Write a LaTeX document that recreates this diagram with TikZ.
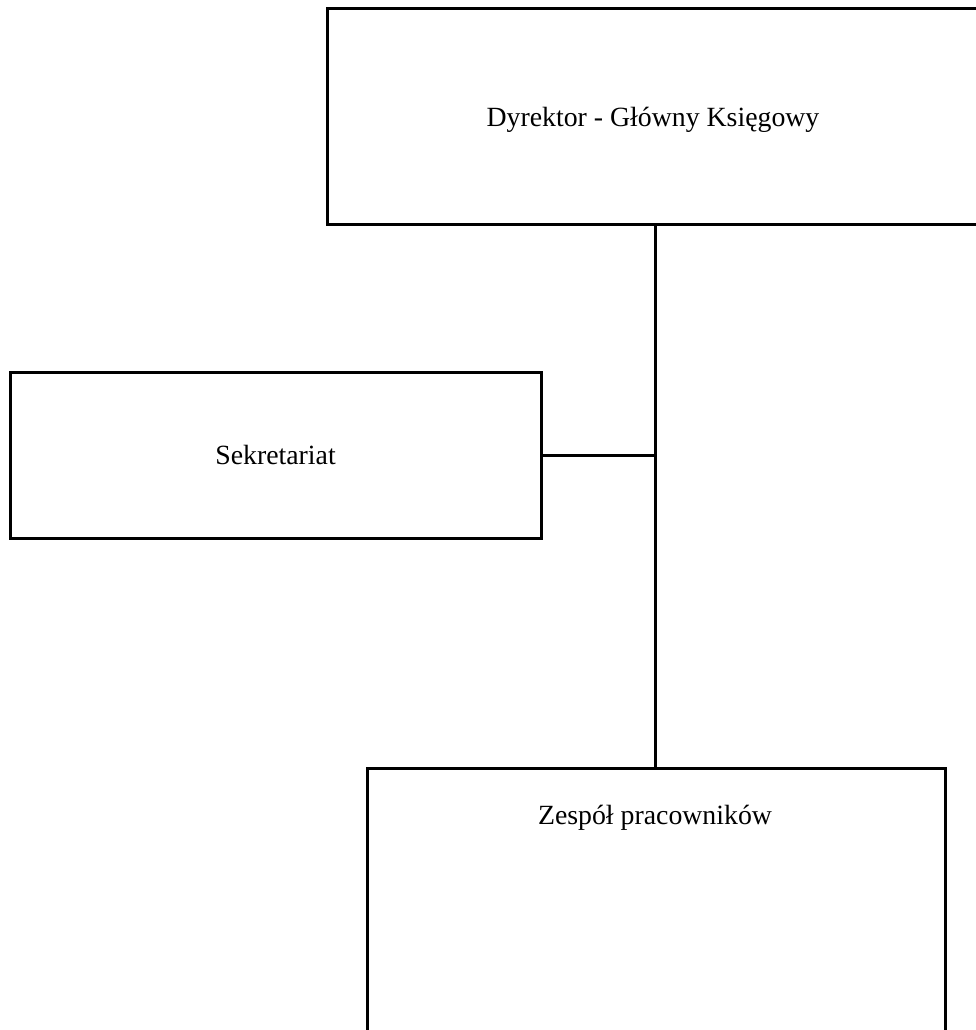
\documentclass[tikz,border=0pt]{standalone}
\usepackage{fontspec}
\setmainfont{Liberation Serif}
\begin{document}
\begin{tikzpicture}[x=1pt,y=-1pt,
  box/.style={draw=black, line width=3pt, inner sep=0pt},
  lbl/.style={inner sep=0pt, font=\fontsize{27.8}{33}\selectfont},
  conn/.style={draw=black, line width=3pt}]
\useasboundingbox (0,0) rectangle (976,1030);
\clip (0,0) rectangle (976,1030);
\node[box, minimum width=651pt, minimum height=215pt] (top) at (652.5,116.5) {};
\node[lbl] (toplabel) at (653,120) {Dyrektor - Główny Księgowy};
\node[box, lbl, minimum width=531pt, minimum height=166pt] (sek) at (275.5,455) {Sekretariat};
\node[box, minimum width=578pt, minimum height=290pt, anchor=north west] (zesp) at (366,767) {};
\node[lbl] (zesplabel) at (655,818) {Zespół pracowników};
\coordinate (j) at (655,455);
\draw[conn] (j |- top.south) -- (j |- zesp.north);
\draw[conn] (sek.east) -- (j);
\end{tikzpicture}
\end{document}
